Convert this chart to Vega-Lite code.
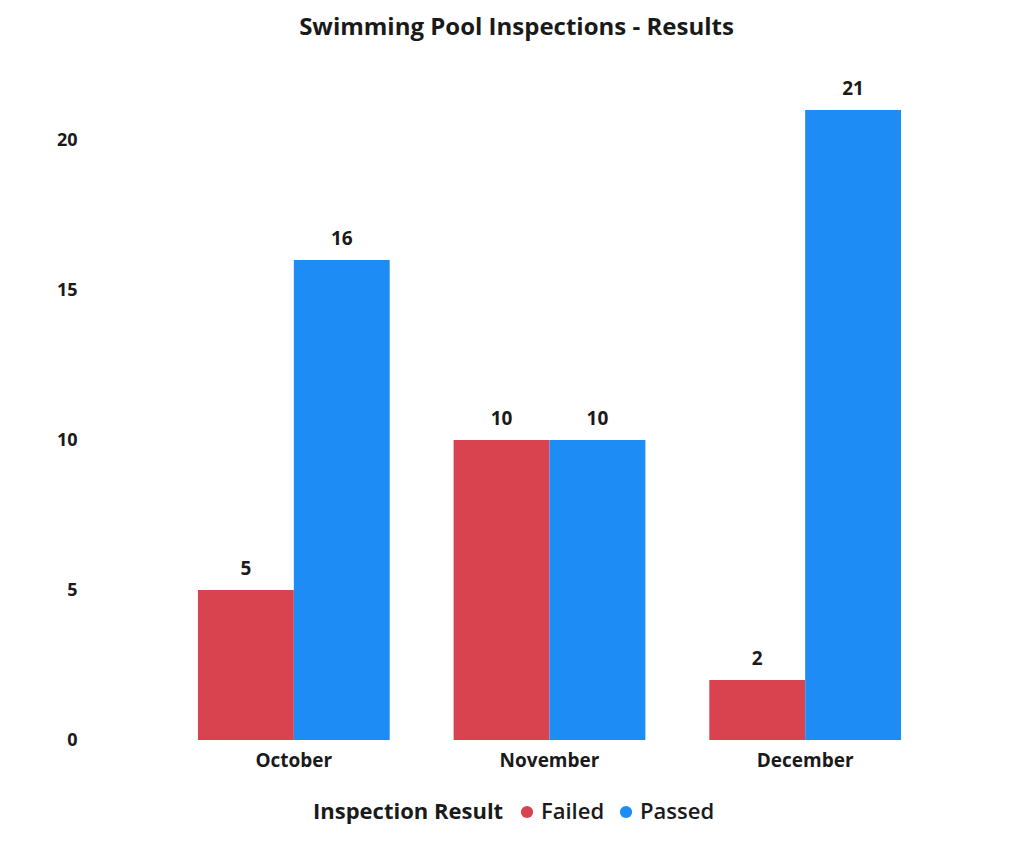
{
  "$schema": "https://vega.github.io/schema/vega-lite/v6.json",
  "width": 767,
  "height": 660,
  "autosize": {"type": "none"},
  "padding": {"left": 166, "top": 80, "right": 89, "bottom": 101},
  "background": "white",
  "config": {
    "font": "Open Sans",
    "view": {"stroke": null}
  },
  "title": {
    "text": "Swimming Pool Inspections - Results",
    "fontSize": 24,
    "fontWeight": "bold",
    "font": "Open Sans",
    "color": "#1a1a1a",
    "anchor": "middle",
    "offset": 40,
    "dx": -33
  },
  "data": {
    "values": [
      {"month": "October", "result": "Failed", "count": 5},
      {"month": "October", "result": "Passed", "count": 16},
      {"month": "November", "result": "Failed", "count": 10},
      {"month": "November", "result": "Passed", "count": 10},
      {"month": "December", "result": "Failed", "count": 2},
      {"month": "December", "result": "Passed", "count": 21}
    ]
  },
  "encoding": {
    "x": {
      "field": "month",
      "type": "nominal",
      "sort": ["October", "November", "December"],
      "scale": {"paddingInner": 0.25, "paddingOuter": 0.125},
      "axis": {
        "title": null,
        "domain": false,
        "ticks": false,
        "labelAngle": 0,
        "labelFontSize": 19,
        "labelFontWeight": "bold",
        "labelColor": "#1a1a1a",
        "labelPadding": 11
      }
    },
    "xOffset": {"field": "result", "type": "nominal", "sort": ["Failed", "Passed"]},
    "y": {
      "field": "count",
      "type": "quantitative",
      "scale": {"domain": [0, 22], "nice": false},
      "axis": {
        "title": null,
        "domain": false,
        "ticks": false,
        "grid": false,
        "values": [0, 5, 10, 15, 20],
        "labelFontSize": 18,
        "labelFontWeight": "bold",
        "labelColor": "#1a1a1a",
        "labelPadding": 89
      }
    }
  },
  "layer": [
    {
      "mark": {"type": "bar"},
      "encoding": {
        "color": {
          "field": "result",
          "type": "nominal",
          "scale": {"domain": ["Failed", "Passed"], "range": ["#D9434F", "#1E8CF5"]},
          "legend": {
            "title": "Inspection Result",
            "orient": "none",
            "legendX": 147,
            "legendY": 721,
            "direction": "horizontal",
            "titleOrient": "left",
            "titleLimit": 400,
            "titleFontSize": 22,
            "titleFontWeight": "bold",
            "titleColor": "#1a1a1a",
            "labelFontSize": 22,
            "labelFontWeight": 600,
            "labelColor": "#1a1a1a",
            "symbolType": "circle",
            "symbolSize": 150,
            "symbolStrokeWidth": 0,
            "columnPadding": 10,
            "labelOffset": 3,
            "titlePadding": 12
          }
        }
      }
    },
    {
      "mark": {"type": "text", "baseline": "bottom", "dy": -11, "fontSize": 19, "fontWeight": "bold", "color": "#1a1a1a"},
      "encoding": {"text": {"field": "count", "type": "quantitative"}}
    }
  ]
}
